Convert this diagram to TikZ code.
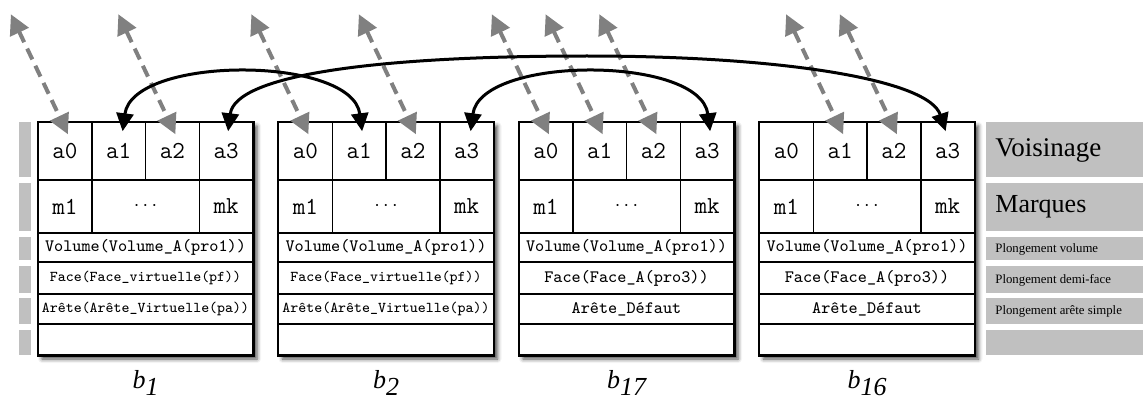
\documentclass[tikz,border=0pt]{standalone}
\usepackage{fontspec}
\setmainfont{Liberation Serif}
\usetikzlibrary{arrows.meta,shadows.blur}

\begin{document}
\begin{tikzpicture}[x=0.5pt,y=-0.5pt,
    frame/.style={fill=white, inner sep=0pt, minimum width=107.5pt, minimum height=116.5pt,
        blur shadow={shadow xshift=2pt, shadow yshift=-2pt, shadow blur radius=2pt, shadow opacity=70}},
    cell/.style={draw, line width=0.75pt, inner sep=0pt, minimum width=26.875pt,
        font=\ttfamily\fontsize{12.2}{14}\selectfont},
    row/.style={draw, line width=0.75pt, inner sep=0pt, minimum width=107.5pt},
    panel/.style={fill=panelGrey},
    legend/.style={anchor=west, inner sep=0pt},
    blabel/.style={anchor=base, inner sep=0pt, font=\fontsize{13}{15}\selectfont\itshape},
    dlink/.style={draw=linkGrey, line width=2pt, dash pattern=on 6pt off 3.5pt,
        {Triangle[length=10pt,width=10pt]}-{Triangle[length=10pt,width=10pt]}},
    link/.style={draw=black, line width=1.5pt,
        {Triangle[length=9pt,width=8.5pt]}-{Triangle[length=9pt,width=8.5pt]}}]
    \definecolor{panelGrey}{HTML}{C0C0C0}
    \definecolor{linkGrey}{HTML}{808080}

    \useasboundingbox (0,0) rectangle (1143,401);

    % Grey strips on the left
    \foreach \ya/\yb in {122/177,183/231,237/260,266/293,298/324,330/355}
        \fill[panel] (19,\ya) rectangle (31,\yb);

    % Grey legend panels on the right
    \foreach \ya/\yb in {122/177,183/231,237/260,266/293,298/324,330/355}
        \fill[panel] (986,\ya) rectangle (1143,\yb);

    % Draw the darts
    \foreach \n/\bx/\face/\arete/\fsz in {
        1/38/{Face(Face\_virtuelle(pf))}/{Arête(Arête\_Virtuelle(pa))}/7.5,
        2/278.5/{Face(Face\_virtuelle(pf))}/{Arête(Arête\_Virtuelle(pa))}/7.5,
        17/519/{Face(Face\_A(pro3))}/{Arête\_Défaut}/8.7,
        16/759.5/{Face(Face\_A(pro3))}/{Arête\_Défaut}/8.7}
    {
        \node[frame] (b\n) at (\bx+107.5,238.5) {};
        % neighbours
        \foreach \k in {0,...,3}
            \node[cell, minimum height=29pt] (b\n-a\k) at (\bx+26.875+53.75*\k,151) {a\k};
        % marks
        \node[cell, minimum height=26.5pt] (b\n-m1) at (\bx+26.875,206.5) {m1};
        \node[cell, minimum height=26.5pt, minimum width=53.75pt] (b\n-mdots) at (\bx+107.5,206.5)
            {\fontsize{10}{12}\selectfont$\cdots$};
        \node[cell, minimum height=26.5pt] (b\n-mk) at (\bx+188.125,206.5) {mk};
        % embeddings
        \node[row, minimum height=14.5pt, font=\ttfamily\fontsize{8.7}{10}\selectfont]
            (b\n-vol) at (\bx+107.5,247.5) {Volume(Volume\_A(pro1))};
        \node[row, minimum height=16pt, font=\ttfamily\fontsize{\fsz}{10}\selectfont]
            (b\n-face) at (\bx+107.5,278) {\face};
        \node[row, minimum height=15pt, font=\ttfamily\fontsize{\fsz}{10}\selectfont]
            (b\n-arete) at (\bx+107.5,309) {\arete};
        \node[row, minimum height=15.5pt] (b\n-free) at (\bx+107.5,339.5) {};
        \draw[line width=1.1pt] (b\n.north west) rectangle (b\n.south east);
        % dart name
        \node[blabel] (b\n-name) at (\bx+107.5,388) {b\raisebox{-3.5pt}{\n}};
    }

    % Dashed links to other darts
    \foreach \c in {b1-a0,b1-a2,b2-a0,b2-a2,b17-a0,b17-a1,b17-a2,b16-a1,b16-a2} {
        \coordinate (\c-far) at ([shift={(-27pt,53.5pt)}]\c.north);
        \draw[dlink] (\c-far) -- ([shift={(1.5pt,-6.5pt)}]\c.north);
    }

    % Links between the darts
    \draw[link] ([shift={(2pt,-5pt)}]b1-a1.north) .. controls +(10,-76) and +(-10,-76) .. ([shift={(1.5pt,-5pt)}]b2-a1.north);
    \draw[link] ([shift={(2pt,-5pt)}]b2-a3.north) .. controls +(10,-76) and +(-10,-76) .. ([shift={(1.5pt,-5pt)}]b17-a3.north);
    \coordinate (arcTop) at (587,56);
    \draw[link] ([shift={(1pt,-5pt)}]b1-a3.north) .. controls +(7,-57) and +(-207,0) .. (arcTop)
        .. controls +(193,0) and +(-17,-52) .. ([shift={(-1pt,-5pt)}]b16-a3.north);

    % Legend
    \node[legend, font=\fontsize{13.5}{15}\selectfont] (voisinage) at (995,150) {Voisinage};
    \node[legend, font=\fontsize{13}{15}\selectfont] (marques) at (995,207) {Marques};
    \node[legend, font=\fontsize{6.4}{8}\selectfont] (plVolume) at (995,249) {Plongement volume};
    \node[legend, font=\fontsize{6.4}{8}\selectfont] (plFace) at (995,280) {Plongement demi-face};
    \node[legend, font=\fontsize{6.4}{8}\selectfont] (plArete) at (995,311) {Plongement arête simple};

\end{tikzpicture}
\end{document}
